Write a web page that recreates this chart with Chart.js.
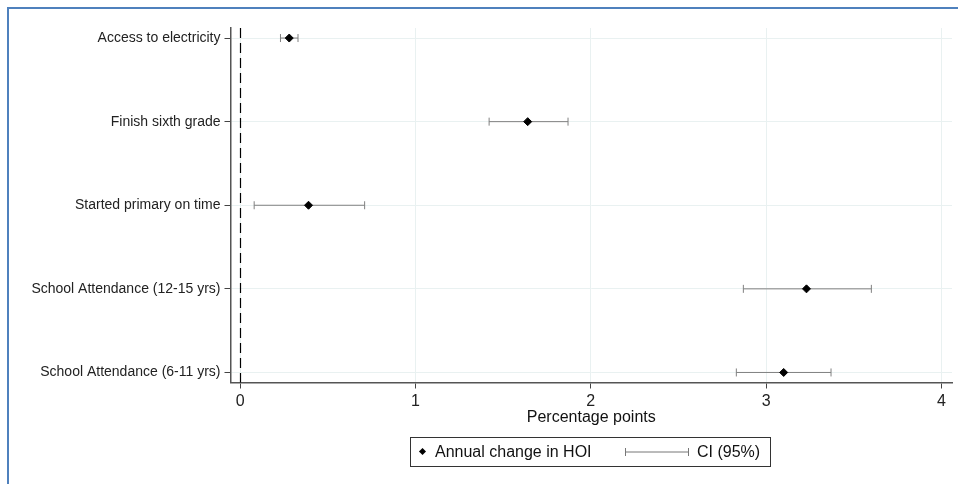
<!DOCTYPE html>
<html>
<head>
<meta charset="utf-8">
<script src="https://cdn.jsdelivr.net/npm/chart.js@4"></script>
<style>
  html, body { margin: 0; padding: 0; background: #fff; }
  #wrap { position: relative; width: 958px; height: 484px; overflow: hidden; }
  #frame { position: absolute; left: 7px; top: 7px; right: -5px; bottom: -5px;
           border-left: 2px solid #4f81bd; border-top: 2px solid #4f81bd; }
  canvas { position: absolute; left: 0; top: 0; }
  #legend { position: absolute; left: 410px; top: 437px; width: 359px; height: 28px;
            border: 1px solid #333; font: 16px "Liberation Sans", Arial, sans-serif; color: #111; }
  #legend span { position: absolute; top: 5px; white-space: nowrap; }
  #legend .dia { position: absolute; left: 9px; top: 11px; width: 5px; height: 5px;
                 background: #000; transform: rotate(45deg); }
  #legend svg { position: absolute; left: 213px; top: 9px; }
</style>
</head>
<body>
<div id="wrap">
  <div id="frame"></div>
  <canvas id="myChart" width="958" height="484"></canvas>
  <div id="legend">
    <div class="dia"></div>
    <span style="left:24px">Annual change in HOI</span>
    <svg width="66" height="10"><line x1="1" y1="5" x2="65" y2="5" stroke="#777" stroke-width="1"/><line x1="1.5" y1="1" x2="1.5" y2="9" stroke="#777"/><line x1="64.5" y1="1" x2="64.5" y2="9" stroke="#777"/></svg>
    <span style="left:286px">CI (95%)</span>
  </div>
</div>
<script>
// Données
const categories = ['Access to electricity', 'Finish sixth grade', 'Started primary on time',
                    'School Attendance (12-15 yrs)', 'School Attendance (6-11 yrs)'];
const estimates = [0.28, 1.64, 0.39, 3.23, 3.10];
const ciLow = [0.23, 1.42, 0.08, 2.87, 2.83];
const ciHigh = [0.33, 1.87, 0.71, 3.60, 3.37];
const xTicks = [0, 1, 2, 3, 4];

// Intervalles de confiance : une ligne par catégorie
const ciSets = categories.map((c, i) => ({
    type: 'line',
    label: 'CI (95%)',
    data: [{x: ciLow[i], y: i}, {x: ciHigh[i], y: i}],
    borderColor: '#808080',
    borderWidth: 1,
    pointStyle: 'line',
    rotation: 90,
    pointRadius: 4,
    pointHoverRadius: 4,
    pointBorderColor: '#808080',
    pointBorderWidth: 1,
    order: 2
}));

const pointSet = {
    type: 'scatter',
    label: 'Annual change in HOI',
    data: estimates.map((v, i) => ({x: v, y: i})),
    pointStyle: 'rectRot',
    pointRadius: 4,
    backgroundColor: '#000',
    borderColor: '#000',
    order: 1
};

// Ligne verticale pointillée à zéro
const zeroLine = {
    id: 'zeroLine',
    afterDatasetsDraw(chart) {
        const {ctx, chartArea, scales} = chart;
        const x = Math.round(scales.x.getPixelForValue(0)) + 0.5;
        ctx.save();
        ctx.strokeStyle = '#000';
        ctx.lineWidth = 1.2;
        ctx.setLineDash([10, 5]);
        ctx.beginPath();
        ctx.moveTo(x, chartArea.top);
        ctx.lineTo(x, chartArea.bottom);
        ctx.stroke();
        ctx.restore();
    }
};

const font = {family: '"Liberation Sans", Arial, sans-serif'};

new Chart(document.getElementById('myChart').getContext('2d'), {
    type: 'scatter',
    data: {datasets: [pointSet, ...ciSets]},
    plugins: [zeroLine],
    options: {
        responsive: false,
        animation: false,
        layout: {padding: {left: 0, right: 6, top: 28, bottom: 57}},
        plugins: {legend: {display: false}, tooltip: {enabled: false}},
        scales: {
            x: {
                type: 'linear',
                min: -0.055,
                max: 4.06,
                afterBuildTicks: s => { s.ticks = xTicks.map(v => ({value: v})); },
                afterFit: s => { s.height = 44.5; },
                grid: {color: '#e9f1f1', tickColor: '#444', tickLength: 6, lineWidth: 1},
                border: {color: '#555', width: 1.5},
                ticks: {color: '#222', padding: 3, font: {...font, size: 16}},
                title: {display: true, text: 'Percentage points', color: '#111',
                        font: {...font, size: 16}, padding: {top: 0, bottom: 0}}
            },
            y: {
                type: 'linear',
                reverse: true,
                min: -0.12,
                max: 4.12,
                afterBuildTicks: s => { s.ticks = categories.map((c, i) => ({value: i})); },
                afterFit: s => { s.width = 230.5; },
                grid: {color: '#e9f1f1', tickColor: '#444', tickLength: 6, lineWidth: 1},
                border: {color: '#555', width: 1.5},
                ticks: {color: '#222', padding: 4, font: {...font, size: 14},
                        callback: v => categories[v]}
            }
        }
    }
});
</script>
</body>
</html>
